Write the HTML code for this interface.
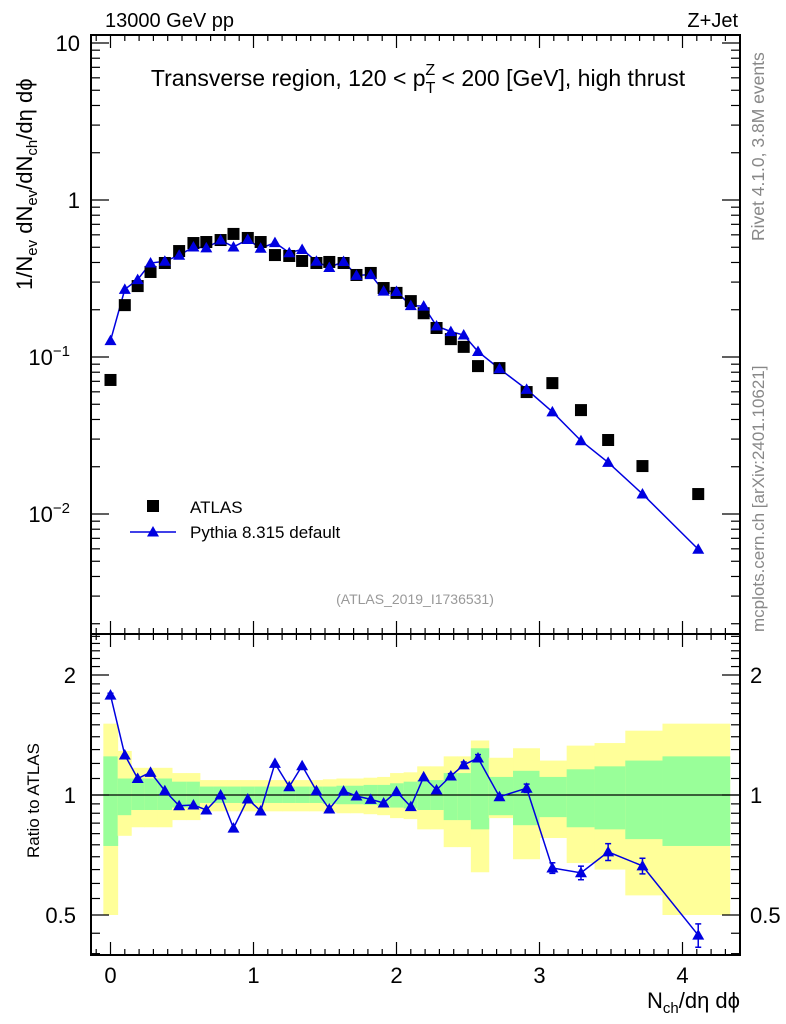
<!DOCTYPE html>
<html><head><meta charset="utf-8"><style>
body{margin:0;background:#fff}
svg{display:block;font-family:"Liberation Sans",sans-serif}
</style></head><body>
<svg id="c" width="786" height="1024" viewBox="0 0 786 1024"></svg>
<script>
const xVals=[0,0.1,0.19,0.28,0.38,0.48,0.58,0.67,0.77,0.86,0.96,1.05,1.15,1.25,1.34,1.44,1.53,1.63,1.72,1.82,1.91,2.0,2.1,2.19,2.28,2.38,2.47,2.57,2.72,2.91,3.09,3.29,3.48,3.72,4.11];
const atlasVals=[0.0714,0.214,0.283,0.348,0.397,0.473,0.532,0.540,0.556,0.608,0.573,0.540,0.446,0.440,0.409,0.397,0.403,0.397,0.333,0.343,0.275,0.256,0.227,0.190,0.153,0.130,0.116,0.0875,0.085,0.0598,0.0682,0.0459,0.0296,0.0202,0.0134];
const ratioVals=[1.78,1.26,1.10,1.14,1.025,0.94,0.944,0.917,1.0,0.826,0.977,0.912,1.20,1.049,1.184,1.025,0.922,1.023,0.994,0.975,0.955,1.02,0.935,1.11,1.03,1.116,1.19,1.238,0.99,1.04,0.656,0.638,0.72,0.664,0.445];
const ratioErr=[0.02,0,0,0,0,0,0,0,0,0,0,0,0,0,0,0,0,0,0,0,0,0,0,0,0,0.015,0.02,0.025,0.01,0.025,0.02,0.025,0.035,0.03,0.03];
const yelHi=[1.51,1.29,1.17,1.17,1.17,1.135,1.135,1.09,1.09,1.09,1.09,1.09,1.09,1.09,1.09,1.09,1.095,1.10,1.10,1.105,1.11,1.135,1.14,1.18,1.18,1.25,1.25,1.37,1.24,1.31,1.22,1.33,1.35,1.45,1.51];
const yelLo=[0.50,0.79,0.83,0.83,0.83,0.865,0.865,0.91,0.91,0.91,0.91,0.91,0.91,0.91,0.91,0.91,0.905,0.90,0.90,0.895,0.89,0.875,0.87,0.82,0.82,0.74,0.74,0.64,0.875,0.69,0.78,0.675,0.65,0.56,0.50];
const grnHi=[1.25,1.10,1.10,1.10,1.10,1.08,1.08,1.05,1.05,1.05,1.05,1.05,1.05,1.05,1.05,1.05,1.05,1.055,1.055,1.06,1.06,1.07,1.08,1.09,1.09,1.135,1.135,1.31,1.11,1.15,1.11,1.16,1.18,1.22,1.25];
const grnLo=[0.745,0.89,0.917,0.917,0.917,0.93,0.93,0.955,0.955,0.955,0.955,0.955,0.955,0.955,0.955,0.955,0.95,0.948,0.948,0.945,0.94,0.93,0.925,0.917,0.917,0.865,0.865,0.82,0.89,0.84,0.88,0.83,0.82,0.775,0.745];
const xTicks=[0,1,2,3,4];
const mainTicks=[{v:10,t:"10"},{v:1,t:"1"},{v:0.1,t:"10",e:"−1"},{v:0.01,t:"10",e:"−2"}];
const ratioTicks=[{v:2,t:"2"},{v:1,t:"1"},{v:0.5,t:"0.5"}];

const L=91,R=740,T=35,M=634,B=955;
const X=v=>110.5+143*v;
const Y=v=>200-157*Math.log10(v);
const YR=v=>795-120*Math.log2(v);
const svg=document.getElementById('c');
const NS="http://www.w3.org/2000/svg";
function el(tag,attrs,parent){const e=document.createElementNS(NS,tag);for(const k in attrs)e.setAttribute(k,attrs[k]);(parent||svg).appendChild(e);return e;}
function txt(s,attrs,parent){const e=el('text',attrs,parent);e.textContent=s;return e;}

const bandG=el('g',{});


const edges=[-0.05];
for(let i=0;i<xVals.length-1;i++)edges.push((xVals[i]+xVals[i+1])/2);
edges.push(4.33);
edges[edges.length-2]=3.86;
for(let i=0;i<xVals.length;i++){
 const x0=X(edges[i]),x1=X(edges[i+1]);
 const y=el('rect',{x:x0,y:YR(yelHi[i]),width:x1-x0+0.5,height:YR(yelLo[i])-YR(yelHi[i]),fill:'#ffff99'},bandG);
 
 
 const g=el('rect',{x:x0,y:YR(grnHi[i]),width:x1-x0+0.5,height:YR(grnLo[i])-YR(grnHi[i]),fill:'#99ff99'},bandG);
 
 
}
el('line',{x1:L,x2:R,y1:YR(1),y2:YR(1),stroke:'#000','stroke-width':1.2});

const f1=el('rect',{x:L,y:T,width:R-L,height:M-T,fill:'none',stroke:'#000','stroke-width':2});


const f2=el('rect',{x:L,y:M,width:R-L,height:B-M,fill:'none',stroke:'#000','stroke-width':2});



for(let i=-1;i<=43;i++){
 const v=i/10;const x=X(v);if(x<L||x>R)continue;
 const major=i%10===0;const len=major?13:6;
 el('line',{x1:x,x2:x,y1:T,y2:T+len,stroke:'#000','stroke-width':1.2});
 el('line',{x1:x,x2:x,y1:M,y2:M-len,stroke:'#000','stroke-width':1.2});
 el('line',{x1:x,x2:x,y1:M,y2:M+len,stroke:'#000','stroke-width':1.2});
 el('line',{x1:x,x2:x,y1:B,y2:B-len,stroke:'#000','stroke-width':1.2});
}
xTicks.forEach(v=>{const t=txt(String(v),{x:X(v),y:983,'font-size':22,'text-anchor':'middle'});
 });

for(let d=-3;d<=1;d++){for(let m=1;m<=9;m++){const v=m*Math.pow(10,d);const y=Y(v);if(y<T||y>M)continue;
 const len=m===1?18:9;
 el('line',{x1:L,x2:L+len,y1:y,y2:y,stroke:'#000','stroke-width':1.2});
 el('line',{x1:R,x2:R-len,y1:y,y2:y,stroke:'#000','stroke-width':1.2});}}
mainTicks.forEach(o=>{const t=txt(o.t,{x:o.e?70:80,y:Y(o.v)+8,'font-size':22,'text-anchor':'end'});
 
 if(o.e){const s=el('tspan',{dy:-9,'font-size':15},t);s.textContent=o.e;}});

for(let v=0.4;v<=2.5;v+= (v<1?0.05:0.1)){v=Math.round(v*100)/100;const y=YR(v);if(y<M||y>B)continue;
 const major=[0.5,1,2].includes(v);const len=major?18:9;
 el('line',{x1:L,x2:L+len,y1:y,y2:y,stroke:'#000','stroke-width':1.2});
 el('line',{x1:R,x2:R-len,y1:y,y2:y,stroke:'#000','stroke-width':1.2});}
ratioTicks.forEach(o=>{
 const a=txt(o.t,{x:76,y:YR(o.v)+8,'font-size':22,'text-anchor':'end'});
 
 const b=txt(o.t,{x:750,y:YR(o.v)+8,'font-size':22});
 });

const pyVals=atlasVals.map((a,i)=>a*ratioVals[i]);
function tri(x,y,s,parent){return el('polygon',{points:`${x},${y-s} ${x-s},${y+s*0.75} ${x+s},${y+s*0.75}`,fill:'#0000e0'},parent);}
const pl=el('polyline',{points:xVals.map((x,i)=>X(x)+','+Y(pyVals[i])).join(' '),fill:'none',stroke:'#0000e0','stroke-width':1.5});

xVals.forEach((x,i)=>{const s=el('rect',{x:X(x)-6,y:Y(atlasVals[i])-6,width:12,height:12,fill:'#000'});
 });
xVals.forEach((x,i)=>{const t=tri(X(x),Y(pyVals[i]),6);
 });

const rl=el('polyline',{points:xVals.map((x,i)=>X(x)+','+YR(ratioVals[i])).join(' '),fill:'none',stroke:'#0000e0','stroke-width':1.5});

xVals.forEach((x,i)=>{const cx=X(x);
 if(ratioErr[i]>0){const y1=YR(ratioVals[i]+ratioErr[i]),y2=YR(ratioVals[i]-ratioErr[i]);
  el('line',{x1:cx,x2:cx,y1:y1,y2:y2,stroke:'#0000e0','stroke-width':1.5});
  el('line',{x1:cx-3,x2:cx+3,y1:y1,y2:y1,stroke:'#0000e0','stroke-width':1.5});
  el('line',{x1:cx-3,x2:cx+3,y1:y2,y2:y2,stroke:'#0000e0','stroke-width':1.5});}
 const t=tri(cx,YR(ratioVals[i]),6);
 });

const lg=el('g',{});

el('rect',{x:147,y:500,width:12,height:12,fill:'#000'},lg);
txt('ATLAS',{x:190,y:513,'font-size':17},lg);
el('line',{x1:130,x2:176,y1:532,y2:532,stroke:'#0000e0','stroke-width':1.5},lg);
tri(153,532,6,lg);
txt('Pythia 8.315 default',{x:190,y:538,'font-size':17},lg);
</script>
<svg width="786" height="1024" style="position:absolute;left:0;top:0;font-family:'Liberation Sans',sans-serif">
<text x="105" y="27" font-size="20">13000 GeV pp</text>
<text x="738" y="27" font-size="20" text-anchor="end">Z+Jet</text>
<text x="418" y="86" font-size="23" text-anchor="middle">Transverse region, 120 &lt; p<tspan font-size="16" dy="7">T</tspan><tspan font-size="16" dx="-10" dy="-18">Z</tspan><tspan dy="11"> &lt; 200 [GeV], high thrust</tspan></text>
<text x="415" y="604" font-size="14" fill="#999" text-anchor="middle">(ATLAS_2019_I1736531)</text>
<text transform="translate(764,241) rotate(-90)" font-size="17.5" fill="#888">Rivet 4.1.0,  3.8M events</text>
<text transform="translate(764,632) rotate(-90)" font-size="17" fill="#888">mcplots.cern.ch [arXiv:2401.10621]</text>
<text transform="translate(32,290) rotate(-90)" font-size="22">1/N<tspan font-size="15" dy="5">ev</tspan><tspan dy="-5"> dN</tspan><tspan font-size="15" dy="5">ev</tspan><tspan dy="-5">/dN</tspan><tspan font-size="15" dy="5">ch</tspan><tspan dy="-5">/dη dϕ</tspan></text>
<text transform="translate(39,858) rotate(-90)" font-size="17">Ratio to ATLAS</text>
<text x="740" y="1008" font-size="22" text-anchor="end">N<tspan font-size="15" dy="5">ch</tspan><tspan dy="-5">/dη dϕ</tspan></text>
</svg>
</body></html>
